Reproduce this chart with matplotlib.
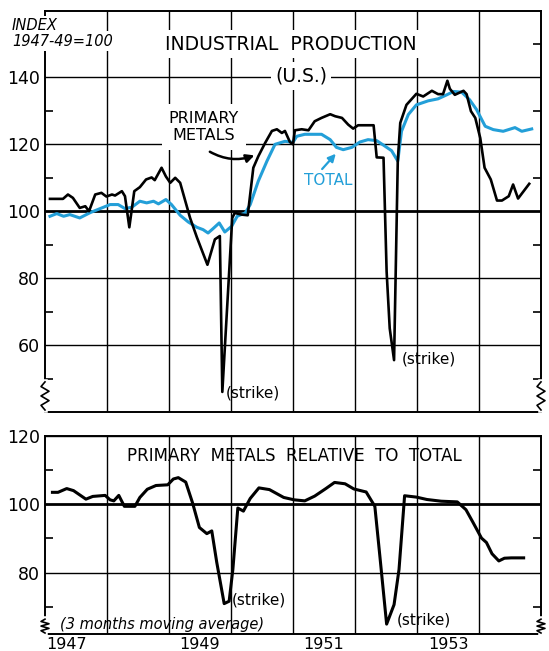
import numpy as np
import matplotlib.pyplot as plt

# primary metals index (decimal year, value)
metals_t = [1947.08, 1947.29, 1947.37, 1947.45, 1947.56, 1947.65, 1947.71, 1947.81, 1947.91, 1947.99,
            1948.08, 1948.13, 1948.24, 1948.29, 1948.36, 1948.44, 1948.53, 1948.63, 1948.72, 1948.77,
            1948.88, 1948.95, 1949.02, 1949.10, 1949.18, 1949.34, 1949.45, 1949.62, 1949.74, 1949.82,
            1949.86, 1949.94, 1950.02, 1950.06, 1950.17, 1950.27, 1950.36, 1950.44, 1950.55, 1950.66,
            1950.74, 1950.82, 1950.87, 1950.95, 1951.00, 1951.03, 1951.14, 1951.25, 1951.35, 1951.46,
            1951.60, 1951.68, 1951.79, 1951.89, 1951.97, 1952.05, 1952.30, 1952.35, 1952.46, 1952.51,
            1952.56, 1952.63, 1952.69, 1952.73, 1952.83, 1952.99, 1953.10, 1953.24, 1953.34, 1953.42,
            1953.49, 1953.53, 1953.61, 1953.75, 1953.80, 1953.87, 1953.94, 1954.02, 1954.09, 1954.19,
            1954.29, 1954.37, 1954.48, 1954.55, 1954.63, 1954.81]
metals_v = [103.7, 103.7, 105.0, 104.0, 101.0, 101.5, 100.0, 105.0, 105.5, 104.4,
            105.0, 104.7, 106.0, 104.5, 95.2, 106.0, 107.2, 109.5, 110.1, 109.3,
            113.0, 110.4, 108.5, 110.0, 108.5, 98.0, 92.2, 84.0, 91.6, 92.6,
            46.0, 72.0, 98.0, 99.5, 99.0, 98.8, 113.0, 116.4, 120.4, 124.0,
            124.5, 123.4, 124.0, 120.7, 120.0, 124.2, 124.5, 124.2, 126.9, 127.9,
            129.0, 128.4, 127.9, 125.9, 124.7, 125.7, 125.7, 116.1, 116.0, 82.0,
            65.0, 55.5, 115.0, 126.4, 131.8, 135.1, 134.3, 136.0, 135.0, 135.0,
            139.0, 136.6, 134.8, 136.0, 135.0, 129.9, 127.9, 121.9, 113.0, 109.5,
            103.2, 103.2, 104.5, 108.0, 103.8, 108.2]

# total industrial production
total_t = [1947.08, 1947.19, 1947.30, 1947.40, 1947.56, 1947.73, 1947.89, 1948.05, 1948.18, 1948.29,
           1948.40, 1948.53, 1948.64, 1948.75, 1948.83, 1948.95, 1949.04, 1949.18, 1949.31, 1949.45,
           1949.55, 1949.63, 1949.71, 1949.81, 1949.90, 1950.01, 1950.10, 1950.23, 1950.31, 1950.44,
           1950.58, 1950.71, 1950.87, 1951.00, 1951.06, 1951.19, 1951.46, 1951.60, 1951.70, 1951.81,
           1951.95, 1952.08, 1952.21, 1952.35, 1952.48, 1952.59, 1952.69, 1952.75, 1952.86, 1952.99,
           1953.18, 1953.34, 1953.48, 1953.59, 1953.72, 1953.85, 1953.96, 1954.10, 1954.23, 1954.39,
           1954.58, 1954.69, 1954.85]
total_v = [98.5, 99.3, 98.5, 99.0, 98.0, 99.6, 100.8, 102.0, 102.0, 100.8,
           101.2, 103.0, 102.5, 103.0, 102.2, 103.5, 102.0, 98.8, 96.8, 95.2,
           94.5, 93.5, 94.8, 96.5, 93.8, 95.5, 98.5, 99.5, 102.0, 109.0,
           115.0, 120.0, 120.9, 120.6, 122.4, 123.0, 123.0, 121.4, 119.1, 118.4,
           119.1, 120.7, 121.4, 121.1, 119.5, 118.1, 115.0, 123.9, 128.9, 131.8,
           133.0, 133.6, 134.8, 135.8, 135.6, 133.3, 130.4, 125.4, 124.4, 123.9,
           125.0, 123.9, 124.6]

# primary metals relative to total, 3 months moving average
rel_t = [1947.12, 1947.21, 1947.35, 1947.46, 1947.66, 1947.77, 1947.97, 1948.05, 1948.11, 1948.19,
         1948.28, 1948.45, 1948.53, 1948.65, 1948.79, 1948.98, 1949.07, 1949.15, 1949.27, 1949.38,
         1949.49, 1949.61, 1949.69, 1949.77, 1949.89, 1949.97, 1950.03, 1950.11, 1950.20, 1950.31,
         1950.45, 1950.62, 1950.85, 1951.02, 1951.19, 1951.35, 1951.53, 1951.67, 1951.84, 1951.98,
         1952.18, 1952.32, 1952.40, 1952.51, 1952.63, 1952.71, 1952.80, 1952.99, 1953.16, 1953.39,
         1953.65, 1953.79, 1953.90, 1954.04, 1954.12, 1954.21, 1954.32, 1954.41, 1954.52, 1954.72]
rel_v = [103.5, 103.5, 104.6, 104.0, 101.5, 102.3, 102.6, 101.3, 101.0, 102.6,
         99.4, 99.4, 102.0, 104.4, 105.5, 105.7, 107.4, 107.8, 106.5, 100.4,
         93.2, 91.4, 92.2, 83.0, 70.9, 71.6, 80.9, 98.9, 98.0, 101.7,
         104.8, 104.3, 102.0, 101.3, 101.0, 102.4, 104.6, 106.4, 106.0, 104.5,
         103.6, 99.4, 85.0, 64.9, 70.6, 80.9, 102.5, 102.1, 101.4, 100.9,
         100.7, 98.4, 94.8, 90.1, 88.8, 85.5, 83.4, 84.2, 84.3, 84.3]

year_labels = ['1947', '1949', '1951', '1953']
year_pos = [1947.35, 1949.5, 1951.5, 1953.5]

BLUE = '#239fd8'
W, H = 549, 651


def fx(px):
    return px / W


def fy(py):
    return 1 - py / H


def zigzag(ax, x0):
    # break mark over a spine near the bottom
    ax.plot([x0, x0], [0.005, 0.075], color='white', lw=4, transform=ax.transAxes,
            clip_on=False, zorder=5)
    zx = np.array([0, -1, 1, -1, 1, -1, 0]) * 0.008 + x0
    zy = np.linspace(0.075, 0.005, 7)
    ax.plot(zx, zy, color='black', lw=1.2, transform=ax.transAxes, clip_on=False, zorder=6)


def setup(ax, ylo, yhi, majors, minors, thick):
    ax.set_xlim(1947, 1955)
    ax.set_ylim(ylo, yhi)
    for s in ax.spines.values():
        s.set_linewidth(1.4)
    for y in majors:
        ax.axhline(y, color='black', lw=2.0 if y == thick else 1.0, zorder=1)
    for x in range(1948, 1955):
        ax.axvline(x, color='black', lw=1.0, zorder=1)
    ax.set_yticks(majors)
    ax.set_yticklabels([str(m) for m in majors], fontsize=12.5)
    ax.set_yticks(minors, minor=True)
    ax.tick_params(axis='y', which='major', length=0, pad=3.5)
    ax.tick_params(axis='y', which='minor', length=6, width=1.2, direction='in',
                   left=True, right=True)
    ax.set_xticks([])


fig = plt.figure(figsize=(W / 100, H / 100), dpi=100)
ax1 = fig.add_axes([fx(45), fy(412), fx(496), 401.5 / H])
ax2 = fig.add_axes([fx(45), fy(634), fx(496), 198 / H])

setup(ax1, 40, 160, [60, 80, 100, 120, 140], [50, 70, 90, 110, 130, 150], 100)
setup(ax2, 62, 120, [80, 100, 120], [70, 90, 110], 100)

ax1.plot(total_t, total_v, color=BLUE, lw=2.2, zorder=3)
ax1.plot(metals_t, metals_v, color='black', lw=1.9, zorder=4)
ax2.plot(rel_t, rel_v, color='black', lw=2.2, zorder=4)

ax2.set_xticks(year_pos)
ax2.set_xticklabels(year_labels, fontsize=11.5)
ax2.tick_params(axis='x', length=0, pad=2)

zigzag(ax1, 0)
zigzag(ax1, 1)
zigzag(ax2, 0)
zigzag(ax2, 1)

wb = dict(facecolor='white', edgecolor='none', pad=1.5)

fig.text(fx(12), fy(26), 'INDEX', fontsize=10.5, style='italic', ha='left', va='center', bbox=wb)
fig.text(fx(12), fy(41), '1947-49=100', fontsize=10.5, style='italic', ha='left', va='center', bbox=wb)
fig.text(fx(291), fy(44), 'INDUSTRIAL  PRODUCTION', fontsize=13.5, ha='center', va='center',
         bbox=dict(facecolor='white', edgecolor='none', pad=3))
fig.text(fx(301), fy(76), '(U.S.)', fontsize=13.5, ha='center', va='center',
         bbox=dict(facecolor='white', edgecolor='none', pad=3))
fig.text(fx(204), fy(127), 'PRIMARY\nMETALS', fontsize=11.5, ha='center', va='center',
         linespacing=1.2, bbox=dict(facecolor='white', edgecolor='none', pad=5))
fig.text(fx(328), fy(181), 'TOTAL', fontsize=11, color=BLUE, ha='center', va='center')
fig.text(fx(253), fy(393), '(strike)', fontsize=11, ha='center', va='center')
fig.text(fx(429), fy(359), '(strike)', fontsize=11, ha='center', va='center')

fig.text(fx(294), fy(456), 'PRIMARY  METALS  RELATIVE  TO  TOTAL', fontsize=12,
         ha='center', va='center')
fig.text(fx(259), fy(600), '(strike)', fontsize=11, ha='center', va='center')
fig.text(fx(424), fy(620), '(strike)', fontsize=11, ha='center', va='center')
fig.text(fx(162), fy(624), '(3 months moving average)', fontsize=10.5, style='italic',
         ha='center', va='center')

ax1.annotate('', xy=(1950.42, 117.0), xytext=(1949.62, 118.2),
             arrowprops=dict(arrowstyle='-|>', color='black', lw=1.8,
                             connectionstyle='arc3,rad=0.25', mutation_scale=12))
ax1.annotate('', xy=(1951.72, 117.8), xytext=(1951.44, 112.0),
             arrowprops=dict(arrowstyle='-|>', color=BLUE, lw=1.6, mutation_scale=11))

fig.savefig('out.png', dpi=100)
